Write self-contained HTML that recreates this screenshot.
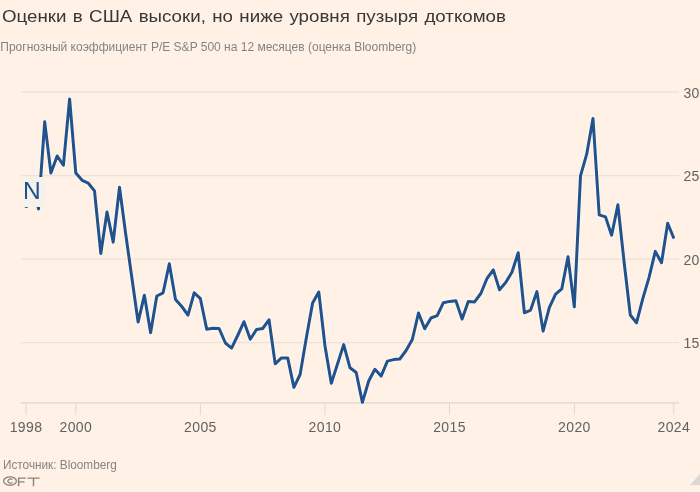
<!DOCTYPE html>
<html><head><meta charset="utf-8"><style>
html,body{margin:0;padding:0;}
body{width:700px;height:492px;background:#fff1e5;position:relative;overflow:hidden;font-family:"Liberation Sans",sans-serif;}
.t{position:absolute;left:2.2px;top:7px;font-size:16.5px;word-spacing:1.0px;color:#3a3633;white-space:nowrap;transform-origin:0 0;transform:scaleX(1.135);}
.s{position:absolute;left:0.3px;top:40.1px;font-size:12px;color:#8a837e;white-space:nowrap;}
.src{position:absolute;left:3.3px;top:457.3px;font-size:13.5px;transform-origin:0 0;transform:scaleX(0.872);color:#8a837e;white-space:nowrap;}
svg{position:absolute;left:0;top:0;}
.t,.s,.src,.xl,.yl{filter:grayscale(1);}
.xl{position:absolute;top:418.8px;letter-spacing:0.35px;width:60px;text-align:center;font-size:14px;color:#66605c;}
.yl{position:absolute;left:683.6px;font-size:14px;color:#66605c;line-height:18px;}
.nb{position:absolute;left:23px;top:177px;width:23px;height:30px;background:#f7f1ec;}
.nb span{position:absolute;left:0.3px;top:1px;font-size:23px;color:#22528c;transform-origin:0 0;transform:scaleX(1.065);}
</style></head><body>
<div class="t">Оценки в США высоки, но ниже уровня пузыря доткомов</div>
<div class="s">Прогнозный коэффициент P/E S&amp;P 500 на 12 месяцев (оценка Bloomberg)</div>
<svg width="700" height="492" viewBox="0 0 700 492">
<g stroke="#ebe1d8" stroke-width="1.2"><line x1="21" y1="92.15" x2="679" y2="92.15" /><line x1="21" y1="175.65" x2="679" y2="175.65" /><line x1="21" y1="259.15" x2="679" y2="259.15" /><line x1="21" y1="342.65" x2="679" y2="342.65" /></g>
<g stroke="#e0d7ce" stroke-width="1"><line x1="26.0" y1="403" x2="26.0" y2="415" /><line x1="75.8" y1="403" x2="75.8" y2="415" /><line x1="200.4" y1="403" x2="200.4" y2="415" /><line x1="324.9" y1="403" x2="324.9" y2="415" /><line x1="449.5" y1="403" x2="449.5" y2="415" /><line x1="574.4" y1="403" x2="574.4" y2="415" /><line x1="673.8" y1="403" x2="673.8" y2="415" /></g>
<line x1="21" y1="402.9" x2="679" y2="402.9" stroke="#e5dcd3" stroke-width="1.9"/>
<polyline points="26.00,207.80 32.20,184.00 38.50,209.00 44.70,121.86 50.90,173.02 57.20,155.96 63.40,165.27 69.60,98.91 75.80,173.00 82.10,180.30 88.30,183.20 94.50,190.90 100.80,253.47 107.00,212.04 113.20,242.15 119.50,187.31 125.70,234.00 131.90,278.00 138.10,322.05 144.40,295.19 150.60,332.73 156.80,296.00 163.10,292.80 169.30,263.78 175.50,299.60 181.80,306.50 188.00,315.12 194.20,292.73 200.40,298.70 206.70,329.17 212.90,328.30 219.10,328.50 225.40,343.00 231.60,348.07 237.90,335.00 244.00,321.72 250.30,339.24 256.50,329.50 262.70,328.50 269.00,319.79 275.20,363.86 281.40,357.90 287.70,357.90 293.90,387.32 300.10,374.50 306.40,337.50 312.60,303.00 318.80,292.09 325.00,346.00 331.30,383.35 337.50,364.00 343.70,344.62 350.00,367.80 356.20,372.50 362.40,402.34 368.70,381.00 374.90,369.31 381.10,376.10 387.40,361.10 393.60,359.60 399.80,359.00 406.10,350.50 412.30,339.50 418.50,313.01 424.70,328.78 431.00,318.00 437.20,315.70 443.40,302.70 449.70,301.40 455.90,300.80 462.10,319.11 468.30,301.40 474.60,301.90 480.80,293.50 487.00,278.50 493.30,269.89 499.50,289.84 505.70,282.60 512.00,272.00 518.20,252.77 524.40,312.82 530.60,310.10 536.90,291.61 543.10,331.14 549.30,307.70 555.60,294.20 561.80,288.80 568.00,256.69 574.30,306.85 580.50,175.80 586.70,154.20 593.00,118.50 599.20,214.80 605.50,216.90 611.60,235.19 617.90,204.83 624.10,262.00 630.30,315.00 636.50,322.91 642.80,298.70 649.00,277.60 655.30,251.38 661.50,262.78 667.70,223.27 673.90,238.50" fill="none" stroke="#ffffff" stroke-opacity="0.55" stroke-width="4.6" stroke-linejoin="round" stroke-linecap="butt"/>
<polyline points="26.00,207.80 32.20,184.00 38.50,209.00 44.70,121.86 50.90,173.02 57.20,155.96 63.40,165.27 69.60,98.91 75.80,173.00 82.10,180.30 88.30,183.20 94.50,190.90 100.80,253.47 107.00,212.04 113.20,242.15 119.50,187.31 125.70,234.00 131.90,278.00 138.10,322.05 144.40,295.19 150.60,332.73 156.80,296.00 163.10,292.80 169.30,263.78 175.50,299.60 181.80,306.50 188.00,315.12 194.20,292.73 200.40,298.70 206.70,329.17 212.90,328.30 219.10,328.50 225.40,343.00 231.60,348.07 237.90,335.00 244.00,321.72 250.30,339.24 256.50,329.50 262.70,328.50 269.00,319.79 275.20,363.86 281.40,357.90 287.70,357.90 293.90,387.32 300.10,374.50 306.40,337.50 312.60,303.00 318.80,292.09 325.00,346.00 331.30,383.35 337.50,364.00 343.70,344.62 350.00,367.80 356.20,372.50 362.40,402.34 368.70,381.00 374.90,369.31 381.10,376.10 387.40,361.10 393.60,359.60 399.80,359.00 406.10,350.50 412.30,339.50 418.50,313.01 424.70,328.78 431.00,318.00 437.20,315.70 443.40,302.70 449.70,301.40 455.90,300.80 462.10,319.11 468.30,301.40 474.60,301.90 480.80,293.50 487.00,278.50 493.30,269.89 499.50,289.84 505.70,282.60 512.00,272.00 518.20,252.77 524.40,312.82 530.60,310.10 536.90,291.61 543.10,331.14 549.30,307.70 555.60,294.20 561.80,288.80 568.00,256.69 574.30,306.85 580.50,175.80 586.70,154.20 593.00,118.50 599.20,214.80 605.50,216.90 611.60,235.19 617.90,204.83 624.10,262.00 630.30,315.00 636.50,322.91 642.80,298.70 649.00,277.60 655.30,251.38 661.50,262.78 667.70,223.27 673.90,238.50" fill="none" stroke="#22528c" stroke-width="3" stroke-linejoin="round" stroke-linecap="butt"/>
<polygon points="690,485 700,474 700,485" fill="#dcd7d2"/>
<ellipse cx="10" cy="481.1" rx="6.4" ry="4.2" fill="none" stroke="#8a837e" stroke-width="1.25"/>
<path d="M12.4,479.8 A2.6,2.0 0 1 0 12.4,482.4" fill="none" stroke="#8a837e" stroke-width="1.25"/>
<path d="M18.6,486.2 V478.1 H25.8 M18.6,481.9 H24.5 M27.5,478.1 H39.6 M33.5,478.1 V486.2" fill="none" stroke="#8a837e" stroke-width="1.4"/>
</svg>
<div class="xl" style="left:-4.0px">1998</div><div class="xl" style="left:45.8px">2000</div><div class="xl" style="left:170.4px">2005</div><div class="xl" style="left:294.9px">2010</div><div class="xl" style="left:419.5px">2015</div><div class="xl" style="left:544.4px">2020</div><div class="xl" style="left:643.8px">2024</div><div class="yl" style="top:83.6px">30</div><div class="yl" style="top:167.1px">25</div><div class="yl" style="top:250.6px">20</div><div class="yl" style="top:334.1px">15</div>
<div class="nb"><span>N</span></div>
<div class="src">Источник: Bloomberg</div>
</body></html>
